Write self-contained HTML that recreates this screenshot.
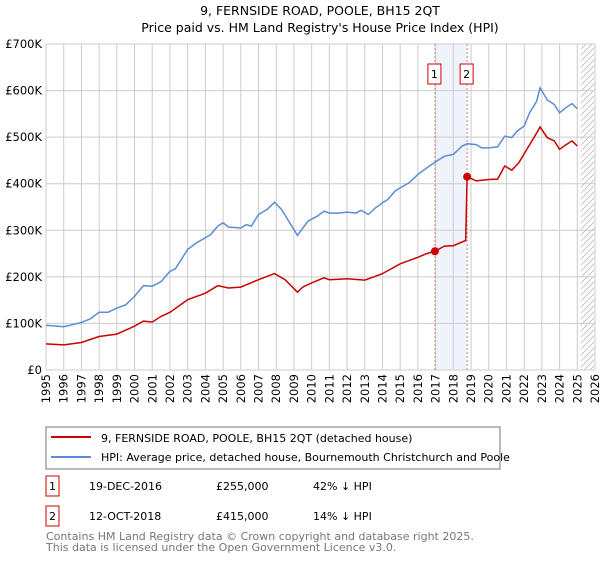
<!DOCTYPE html>
<html><head><meta charset="utf-8"><style>
body{margin:0;background:#fff;font-family:"Liberation Sans","DejaVu Sans",sans-serif;}
svg text{font-family:"DejaVu Sans","Liberation Sans",sans-serif;}
</style></head><body>
<svg id="c" width="600" height="560" xmlns="http://www.w3.org/2000/svg">
<text x="320" y="15" text-anchor="middle" font-size="12.5">9, FERNSIDE ROAD, POOLE, BH15 2QT</text>
<text x="320" y="32" text-anchor="middle" font-size="12.5">Price paid vs. HM Land Registry's House Price Index (HPI)</text>
<g id="plot"></g>
<g>
<rect x="46" y="427" width="454" height="42" fill="#fff" stroke="#777"/>
<line x1="51" y1="437" x2="91" y2="437" stroke="#cc0000" stroke-width="2"/>
<text x="101" y="442" font-size="11">9, FERNSIDE ROAD, POOLE, BH15 2QT (detached house)</text>
<line x1="51" y1="457" x2="91" y2="457" stroke="#5b8dd6" stroke-width="2"/>
<text x="101" y="461" font-size="11">HPI: Average price, detached house, Bournemouth Christchurch and Poole</text>
</g>
<g font-size="11">
<rect x="46" y="476" width="13" height="20" fill="#fff" stroke="#cc0000"/>
<text x="52.5" y="490" text-anchor="middle">1</text>
<text x="89" y="490">19-DEC-2016</text><text x="216" y="490">£255,000</text><text x="313" y="490">42% ↓ HPI</text>
<rect x="46" y="506" width="13" height="20" fill="#fff" stroke="#cc0000"/>
<text x="52.5" y="520" text-anchor="middle">2</text>
<text x="89" y="520">12-OCT-2018</text><text x="216" y="520">£415,000</text><text x="313" y="520">14% ↓ HPI</text>
</g>
<text x="46" y="540" font-size="11" fill="#777">Contains HM Land Registry data © Crown copyright and database right 2025.</text>
<text x="46" y="551" font-size="11" fill="#777">This data is licensed under the Open Government Licence v3.0.</text>
</svg>
<script>
const hpiYears=[1995,1996,1997,1997.5,1998,1998.5,1999,1999.5,2000,2000.5,2001,2001.5,2002,2002.3,2003,2003.5,2004,2004.3,2004.7,2005,2005.3,2006,2006.3,2006.6,2007,2007.5,2007.9,2008.3,2008.7,2009.2,2009.5,2009.8,2010.3,2010.7,2011,2011.5,2012,2012.5,2012.8,2013.2,2013.6,2014,2014.3,2014.7,2015,2015.5,2016,2016.5,2016.96,2017.5,2018,2018.5,2018.8,2019.3,2019.6,2020,2020.5,2020.9,2021.3,2021.6,2022,2022.3,2022.7,2022.9,2023.3,2023.7,2024,2024.3,2024.7,2025];
const hpiValues=[96,93,102,110,124,124,133,140,158,181,180,190,212,217,259,273,284,291,309,316,307,305,312,309,334,345,360,345,320,289,305,320,330,341,337,337,339,337,343,334,348,359,366,384,391,402,420,434,446,459,463,481,486,484,477,477,479,502,499,513,524,552,577,606,580,570,552,562,572,561];
const propYears=[1995,1996,1997,1998,1999,2000,2000.5,2001,2001.5,2002,2003,2004,2004.7,2005.3,2006,2007,2007.9,2008.5,2009.2,2009.5,2010,2010.7,2011,2012,2013,2013.5,2014,2015,2016,2016.5,2016.96,2017.5,2018,2018.7,2018.78,2019.3,2020,2020.5,2020.9,2021.3,2021.7,2022.2,2022.6,2022.9,2023.3,2023.7,2024,2024.3,2024.7,2025];
const propValues=[56,54,59,72,77,94,105,103,115,124,151,165,181,176,178,194,207,194,167,178,187,198,194,196,193,200,207,228,242,250,255,266,267,278,415,406,409,410,438,429,445,477,502,522,499,492,474,482,492,481];
const saleYears=[2016.96,2018.78];
const saleValues=[255,415];
const saleLabels=["1","2"];
const yTicks=[0,100,200,300,400,500,600,700];
const yTickLabels=["£0","£100K","£200K","£300K","£400K","£500K","£600K","£700K"];
const xTicks=[1995,1996,1997,1998,1999,2000,2001,2002,2003,2004,2005,2006,2007,2008,2009,2010,2011,2012,2013,2014,2015,2016,2017,2018,2019,2020,2021,2022,2023,2024,2025,2026];

const L=46,R=595,T=44,B=370,NS="http://www.w3.org/2000/svg";
const xs=y=>L+(y-1995)/(2026-1995)*(R-L);
const ys=v=>B-v/700*(B-T);
const g=document.getElementById('plot');
function mk(t,a,p){const e=document.createElementNS(NS,t);for(const k in a)e.setAttribute(k,a[k]);(p||g).appendChild(e);return e;}
// shaded region
const sh=mk('rect',{x:xs(saleYears[0]),y:T,width:xs(saleYears[1])-xs(saleYears[0]),height:B-T,fill:'#eef3fc'});


// hatch
const defs=mk('defs',{});
const pat=mk('pattern',{id:'h',width:6,height:6,patternUnits:'userSpaceOnUse'},defs);
mk('path',{d:'M0,6 L6,0',stroke:'#bbb','stroke-width':0.8},pat);
const ht=mk('rect',{x:xs(2025.2),y:T,width:R-xs(2025.2),height:B-T,fill:'url(#h)'});


// grid
yTicks.forEach((v,i)=>{
 const ln=mk('line',{x1:L,x2:R,y1:ys(v),y2:ys(v),stroke:'#ccc'});
 
 
 const t=mk('text',{x:L-4,y:ys(v)+4,'text-anchor':'end','font-size':11.5});
 t.textContent=yTickLabels[i];
 
 
});
xTicks.forEach(y=>{
 const ln=mk('line',{x1:xs(y),x2:xs(y),y1:T,y2:B,stroke:'#ccc'});
 
 
 const t=mk('text',{x:0,y:0,'text-anchor':'end','font-size':11.5,transform:`translate(${xs(y)+4},${B+4}) rotate(-90)`});
 t.textContent=y;
 
 
});
mk('rect',{x:L,y:T,width:R-L,height:B-T,fill:'none',stroke:'#ccc'});
// sale lines
saleYears.forEach((y,i)=>{
 const ln=mk('line',{x1:xs(y),x2:xs(y),y1:T,y2:B,stroke:'#e06666','stroke-dasharray':'2,2','stroke-width':0.8});
 
 
 const b=mk('rect',{x:xs(y)-7,y:64,width:13,height:20,fill:'#fff',stroke:'#cc0000'});
 
 
 const t=mk('text',{x:xs(y)-0.5,y:78,'text-anchor':'middle','font-size':11});
 t.textContent=saleLabels[i];
 
 
});
function line(xa,va,col,name){
 const p=mk('path',{d:xa.map((x,i)=>(i?'L':'M')+xs(x).toFixed(1)+','+ys(va[i]).toFixed(1)).join(''),fill:'none',stroke:col,'stroke-width':1.5});
 
 
}
line(hpiYears,hpiValues,'#5b8dd6','hpi-line');
line(propYears,propValues,'#cc0000','property-line');
saleYears.forEach((y,i)=>{
 const c=mk('circle',{cx:xs(y),cy:ys(saleValues[i]),r:4,fill:'#cc0000'});
 
 
});
</script>
</body></html>
